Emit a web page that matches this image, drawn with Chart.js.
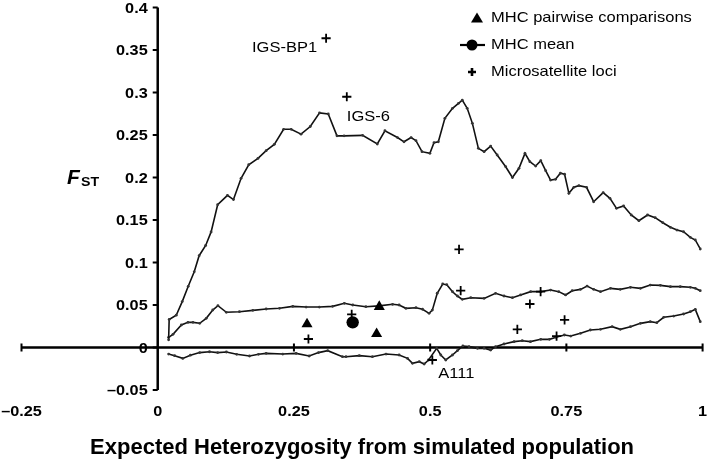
<!DOCTYPE html>
<html>
<head>
<meta charset="utf-8">
<script src="https://cdn.jsdelivr.net/npm/chart.js@4"></script>
<style>
  body { margin: 0; background: #fff; }
  #wrap { width: 709px; height: 460px; position: relative; }
</style>
</head>
<body>
<div id="wrap"><canvas id="chart"></canvas></div>
<script>
// axis ticks
const X_TICKS = [-0.25, 0, 0.25, 0.5, 0.75, 1];
const Y_TICKS = [-0.05, 0, 0.05, 0.1, 0.15, 0.2, 0.25, 0.3, 0.35, 0.4];

// simulated FST envelope (upper, median, lower)
const upperCurve = [[0.02,0.009],[0.021,0.033],[0.034,0.038],[0.045,0.054],[0.056,0.072],[0.067,0.089],[0.076,0.108],[0.088,0.12],[0.098,0.136],[0.11,0.168],[0.128,0.179],[0.139,0.174],[0.153,0.199],[0.167,0.215],[0.184,0.2225],[0.199,0.2316],[0.214,0.239],[0.231,0.2567],[0.245,0.2567],[0.263,0.251],[0.28,0.26],[0.297,0.276],[0.313,0.2747],[0.329,0.249],[0.342,0.249],[0.376,0.2496],[0.403,0.2394],[0.417,0.255],[0.44,0.247],[0.452,0.242],[0.465,0.247],[0.474,0.2433],[0.485,0.2304],[0.4995,0.2284],[0.507,0.241],[0.515,0.242],[0.527,0.2696],[0.541,0.2814],[0.552,0.2873],[0.559,0.291],[0.568,0.2814],[0.5775,0.2637],[0.5885,0.2343],[0.599,0.2304],[0.611,0.237],[0.623,0.2265],[0.6386,0.2127],[0.651,0.2],[0.663,0.2108],[0.674,0.2284],[0.683,0.2186],[0.6936,0.2135],[0.703,0.2198],[0.712,0.208],[0.721,0.197],[0.73,0.1979],[0.739,0.205],[0.7467,0.2038],[0.7546,0.1814],[0.7637,0.1885],[0.773,0.1904],[0.787,0.1885],[0.8,0.1715],[0.8175,0.1822],[0.83,0.1755],[0.842,0.1637],[0.855,0.1665],[0.869,0.1559],[0.883,0.1492],[0.899,0.1559],[0.913,0.1527],[0.927,0.1468],[0.941,0.1414],[0.953,0.1382],[0.965,0.1362],[0.9775,0.1296],[0.9866,0.1265],[0.9957,0.1159]];
const middleCurve = [[0.02,0.012],[0.028,0.0155],[0.0434,0.0265],[0.0555,0.0296],[0.0647,0.0296],[0.077,0.0285],[0.089,0.0343],[0.101,0.0441],[0.1105,0.0492],[0.126,0.0414],[0.15,0.0421],[0.1746,0.0437],[0.199,0.0453],[0.2235,0.0461],[0.2478,0.0484],[0.2723,0.0476],[0.2967,0.0476],[0.321,0.0484],[0.3425,0.052],[0.358,0.05],[0.382,0.048],[0.406,0.049],[0.431,0.0508],[0.443,0.05],[0.4555,0.0461],[0.474,0.0468],[0.486,0.045],[0.498,0.0402],[0.504,0.044],[0.513,0.0638],[0.523,0.0747],[0.5305,0.0739],[0.541,0.0656],[0.55,0.0606],[0.559,0.0567],[0.5745,0.0586],[0.599,0.0578],[0.62,0.0637],[0.6355,0.0606],[0.651,0.0586],[0.666,0.0618],[0.6844,0.0657],[0.703,0.0657],[0.721,0.0676],[0.736,0.0657],[0.7485,0.0618],[0.7607,0.0668],[0.776,0.0684],[0.788,0.0723],[0.8,0.0684],[0.8126,0.0657],[0.831,0.0696],[0.849,0.0684],[0.8676,0.0708],[0.886,0.0696],[0.904,0.0735],[0.9225,0.0731],[0.941,0.0716],[0.959,0.0716],[0.9775,0.0708],[0.9866,0.0696],[0.9957,0.0668]];
const lowerCurve = [[0.02,-0.0077],[0.031,-0.0096],[0.046,-0.0128],[0.06,-0.009],[0.077,-0.006],[0.095,-0.005],[0.11,-0.006],[0.126,-0.0053],[0.145,-0.008],[0.1685,-0.01],[0.185,-0.008],[0.199,-0.0069],[0.2295,-0.0077],[0.254,-0.0069],[0.278,-0.01],[0.295,-0.006],[0.312,-0.0037],[0.339,-0.0108],[0.3455,-0.0108],[0.37,-0.0096],[0.394,-0.0108],[0.419,-0.0077],[0.443,-0.0088],[0.4585,-0.0128],[0.4676,-0.0186],[0.48,-0.0167],[0.489,-0.0194],[0.497,-0.0147],[0.512,-0.001],[0.5195,-0.0088],[0.5286,-0.0147],[0.541,-0.0088],[0.55,-0.0037],[0.56,0.0018],[0.5714,0.001],[0.5867,-0.001],[0.599,-0.001],[0.611,-0.003],[0.62,0.001],[0.6355,0.0041],[0.654,0.0069],[0.669,0.008],[0.684,0.0069],[0.703,0.0096],[0.719,0.0096],[0.731,0.012],[0.7463,0.0147],[0.758,0.0135],[0.776,0.0167],[0.794,0.0206],[0.8126,0.0214],[0.834,0.0245],[0.849,0.0214],[0.8676,0.0245],[0.886,0.0284],[0.904,0.0304],[0.916,0.0292],[0.9286,0.0355],[0.947,0.037],[0.965,0.0394],[0.9775,0.0421],[0.9866,0.0449],[0.9957,0.0304]];

// observed values
const microLoci = [[0.309,0.3638],[0.347,0.295],[0.553,0.1155],[0.556,0.0668],[0.7027,0.0657],[0.683,0.0512],[0.7467,0.0324],[0.66,0.0214],[0.732,0.0135],[0.504,-0.0147],[0.2766,0.01],[0.356,0.039]];
const microNames = ['IGS-BP1', 'IGS-6', '', '', '', '', '', '', '', 'A111', '', ''];
const mhcPairs = [[0.274,0.0275],[0.4066,0.048],[0.4017,0.016]];
const mhcMean = [[0.3578,0.0296]];

const LEGEND = ['MHC pairwise comparisons', 'MHC mean', 'Microsatellite loci'];
const X_TITLE = 'Expected Heterozygosity from simulated population';

const FONT = 'Liberation Sans, Arial, sans-serif';
const toXY = (arr) => arr.map(([x, y]) => ({ x, y }));

function text(ctx, str, x, y, font, align, sx) {
  ctx.save();
  ctx.font = font;
  ctx.textAlign = align;
  ctx.textBaseline = 'middle';
  ctx.translate(x, y);
  ctx.scale(sx, 1);
  ctx.fillText(str, 0, 0);
  ctx.restore();
}

function curve(data) {
  return {
    data: toXY(data),
    showLine: true,
    borderColor: '#111',
    borderWidth: 1.6,
    pointRadius: 1.4,
    pointBackgroundColor: '#333',
    pointBorderWidth: 0,
    order: 5,
  };
}

// axes crossing at zero, labels, legend
const axesPlugin = {
  id: 'axes',
  beforeDatasetsDraw(chart) {
    const { ctx, scales: { x, y } } = chart;
    const x0 = x.getPixelForValue(0);
    const y0 = y.getPixelForValue(0);
    ctx.save();
    ctx.strokeStyle = '#000';
    ctx.lineWidth = 2.5;
    ctx.beginPath();
    ctx.moveTo(x.getPixelForValue(X_TICKS[0]), y0);
    ctx.lineTo(x.getPixelForValue(X_TICKS[X_TICKS.length - 1]), y0);
    ctx.moveTo(x0, y.getPixelForValue(Y_TICKS[0]));
    ctx.lineTo(x0, y.getPixelForValue(Y_TICKS[Y_TICKS.length - 1]));
    ctx.stroke();
    ctx.lineWidth = 2;
    ctx.beginPath();
    X_TICKS.forEach((t) => {
      if (t === 0) return;
      const px = x.getPixelForValue(t);
      ctx.moveTo(px, y0 - 4);
      ctx.lineTo(px, y0 + 4);
    });
    Y_TICKS.forEach((t) => {
      const py = y.getPixelForValue(t);
      ctx.moveTo(x0 - 5, py);
      ctx.lineTo(x0, py);
    });
    ctx.stroke();
    ctx.restore();
  },
  afterDraw(chart) {
    const { ctx, chartArea, scales: { x, y } } = chart;
    const x0 = x.getPixelForValue(0);
    ctx.save();
    ctx.fillStyle = '#000';
    const fmt = (v) => String(v).replace('-', '\u2013');

    // tick labels
    Y_TICKS.forEach((t) => {
      text(ctx, fmt(t), x0 - 10, y.getPixelForValue(t) + 1, 'bold 15.5px ' + FONT, 'right', 1.05);
    });
    X_TICKS.forEach((t) => {
      text(ctx, fmt(t), x.getPixelForValue(t), chartArea.bottom + 22, 'bold 15.5px ' + FONT, 'center', 1.05);
    });

    // axis titles
    text(ctx, X_TITLE, (chartArea.left + chartArea.right) / 2, chartArea.bottom + 58, 'bold 22px ' + FONT, 'center', 1);
    text(ctx, 'F', 67, 178, 'italic bold 20px ' + FONT, 'left', 1.05);
    text(ctx, 'ST', 81, 182, 'bold 13.5px ' + FONT, 'left', 1.05);

    // point names
    const reg = '15px ' + FONT;
    microLoci.forEach(([vx, vy], i) => {
      const name = microNames[i];
      if (!name) return;
      const px = x.getPixelForValue(vx);
      const py = y.getPixelForValue(vy);
      if (name === 'IGS-BP1') text(ctx, name, px - 9, py + 10, reg, 'right', 1.1);
      else if (name === 'IGS-6') text(ctx, name, px, py + 20, reg, 'left', 1.1);
      else text(ctx, name, px + 6, py + 14, reg, 'left', 1.1);
    });

    // legend
    const lx = 472, tx = 491, rows = [18, 45, 72];
    ctx.beginPath();
    ctx.moveTo(lx + 5, rows[0] - 5.5);
    ctx.lineTo(lx + 11, rows[0] + 4.5);
    ctx.lineTo(lx - 1, rows[0] + 4.5);
    ctx.closePath();
    ctx.fill();
    ctx.strokeStyle = '#000';
    ctx.lineWidth = 2.2;
    ctx.beginPath();
    ctx.moveTo(lx - 12, rows[1]);
    ctx.lineTo(lx + 13, rows[1]);
    ctx.stroke();
    ctx.beginPath();
    ctx.arc(lx, rows[1], 5.5, 0, Math.PI * 2);
    ctx.fill();
    ctx.lineWidth = 2.6;
    ctx.beginPath();
    ctx.moveTo(lx - 4, rows[2]);
    ctx.lineTo(lx + 4, rows[2]);
    ctx.moveTo(lx, rows[2] - 4);
    ctx.lineTo(lx, rows[2] + 4);
    ctx.stroke();
    LEGEND.forEach((s, i) => text(ctx, s, tx, rows[i], reg, 'left', 1.1));
    ctx.restore();
  },
};

new Chart(document.getElementById('chart'), {
  type: 'scatter',
  data: {
    datasets: [
      curve(upperCurve),
      curve(middleCurve),
      curve(lowerCurve),
      {
        data: toXY(mhcMean),
        pointStyle: 'circle',
        pointRadius: 6.2,
        backgroundColor: '#000',
        borderColor: '#000',
        borderWidth: 0,
        order: 3,
      },
      {
        data: toXY(mhcPairs),
        pointStyle: 'triangle',
        pointRadius: 6.4,
        backgroundColor: '#000',
        borderColor: '#000',
        borderWidth: 0,
        order: 2,
      },
      {
        data: toXY(microLoci),
        pointStyle: 'cross',
        pointRadius: 4.6,
        borderColor: '#000',
        borderWidth: 1.8,
        order: 1,
      },
    ],
  },
  options: {
    responsive: true,
    maintainAspectRatio: false,
    animation: false,
    layout: { padding: { left: 21.5, top: 7.5, right: 5, bottom: 70 } },
    plugins: { legend: { display: false }, tooltip: { enabled: false } },
    scales: {
      x: { type: 'linear', min: -0.25, max: 1, display: false },
      y: { type: 'linear', min: -0.05, max: 0.4, display: false },
    },
  },
  plugins: [axesPlugin],
});
</script>
</body>
</html>
